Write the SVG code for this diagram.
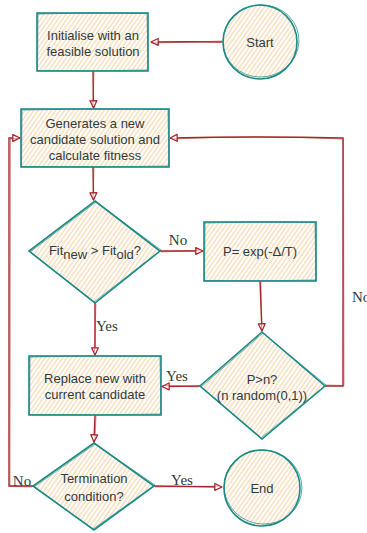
<svg xmlns="http://www.w3.org/2000/svg" width="367" height="533" viewBox="0 0 367 533">
<defs>
<pattern id="h" patternUnits="userSpaceOnUse" width="3.6" height="3.6" patternTransform="rotate(35)">
<rect width="3.6" height="3.6" fill="#ffffff"/>
<line x1="1" y1="0" x2="1" y2="3.6" stroke="#f8d3a6" stroke-width="1.1"/>
</pattern>
<marker id="a" viewBox="0 0 10 10" refX="9" refY="5" markerWidth="9" markerHeight="9" orient="auto" markerUnits="userSpaceOnUse">
<path d="M1,1.2 L9,5 L1,8.8 Z" fill="#ffffff" stroke="#a8262a" stroke-width="1.4" stroke-linejoin="round"/>
</marker>
</defs>
<style>
.s{fill:url(#h);stroke:#1b8a86;stroke-width:1.6;}
.s2{fill:none;stroke:#1b8a86;stroke-width:0.9;opacity:0.75;}
.t{font-family:"Liberation Sans",Arial,sans-serif;font-size:13px;fill:#2f3b3d;text-anchor:middle;}
.c{fill:none;stroke:#a8262a;stroke-width:1.4;}
.c2{fill:none;stroke:#a8262a;stroke-width:0.8;opacity:0.6;}
.l{font-family:"Liberation Serif","Times New Roman",serif;font-size:15px;fill:#2f3b3d;}
</style>

<g id="connectors">
<path class="c" d="M222,42 Q190,41.5 151,42" marker-end="url(#a)"/>
<path class="c2" d="M222,41 Q188,42.5 151,43"/>
<path class="c" d="M93,71 L93.5,108" marker-end="url(#a)"/>
<path class="c2" d="M94,72 L92.8,106"/>
<path class="c" d="M93,167 L93.5,200" marker-end="url(#a)"/>
<path class="c2" d="M94,168 L93,198"/>
<path class="c" d="M160,251 L203,251" marker-end="url(#a)"/>
<path class="c2" d="M161,252 L200,250"/>
<path class="c" d="M260,281 L262,331" marker-end="url(#a)"/>
<path class="c2" d="M261,282 L261.5,329"/>
<path class="c" d="M200,386 L162,386.5" marker-end="url(#a)"/>
<path class="c2" d="M199,387 L164,385.5"/>
<path class="c" d="M325,386 L343,386 L343,138 Q260,136 170,138" marker-end="url(#a)"/>
<path class="c2" d="M326,385 L344,385.5 L343.5,139 Q255,135 172,139"/>
<path class="c" d="M95,303 L95,355" marker-end="url(#a)"/>
<path class="c2" d="M96,304 L94.5,352"/>
<path class="c" d="M95,415 L94,442" marker-end="url(#a)"/>
<path class="c2" d="M96,416 L95,440"/>
<path class="c" d="M154,486 L222,487" marker-end="url(#a)"/>
<path class="c2" d="M155,487 L219,486"/>
<path class="c" d="M33,486 L9,486 L9,138 L20,138" marker-end="url(#a)"/>
<path class="c2" d="M32,487 L10,486.5 L10.5,139 L18,138.5"/>
</g>

<g id="start">
<circle class="s" cx="260" cy="42" r="37"/>
<ellipse class="s2" cx="261" cy="41" rx="38" ry="36" transform="rotate(-10 261 41)"/>
<text class="t" x="260" y="46.5">Start</text>
</g>

<g id="init">
<rect class="s" x="37" y="13" width="111" height="58"/>
<path class="s2" d="M38,14 Q92,12 147,13.5 L148,70 Q92,71.5 37.5,70.5 Z"/>
<text class="t" x="93" y="39.5">Initialise with an</text>
<text class="t" x="93" y="55.5">feasible solution</text>
</g>

<g id="generate">
<rect class="s" x="21" y="109" width="148" height="58"/>
<path class="s2" d="M22,110 Q95,108 168,109.5 L169,166 Q95,167.5 21.5,166.5 Z"/>
<text class="t" x="95" y="127.5">Generates a new</text>
<text class="t" x="95" y="143.5">candidate solution and</text>
<text class="t" x="95" y="159.5">calculate fitness</text>
</g>

<g id="fit-decision">
<path class="s" d="M95,201 L160,251 L95,303 L29,251 Z"/>
<path class="s2" d="M96,202 L161,250 L94,302 L30,252 Z"/>
<text class="t" x="95" y="255">Fit<tspan dy="4">new</tspan><tspan dy="-4"> &gt; Fit</tspan><tspan dy="4">old</tspan><tspan dy="-4">?</tspan></text>
</g>

<g id="prob">
<rect class="s" x="204" y="222" width="112" height="59"/>
<path class="s2" d="M205,223 Q260,221 315,222.5 L316,280 Q260,281.5 204.5,280.5 Z"/>
<text class="t" x="260" y="255.5">P= exp(-Δ/T)</text>
</g>

<g id="accept-decision">
<path class="s" d="M262,332 L325,386 L262,439 L200,386 Z"/>
<path class="s2" d="M263,333 L326,385 L261,438 L201,387 Z"/>
<text class="t" x="262" y="383.5">P&gt;n?</text>
<text class="t" x="262" y="399.5">(n random(0,1))</text>
</g>

<g id="replace">
<rect class="s" x="29" y="356" width="132" height="59"/>
<path class="s2" d="M30,357 Q95,355 160,356.5 L161,414 Q95,415.5 29.5,414.5 Z"/>
<text class="t" x="95" y="382.5">Replace new with</text>
<text class="t" x="95" y="398.5">current candidate</text>
</g>

<g id="termination">
<path class="s" d="M94,443 L154,486 L94,530 L33,486 Z"/>
<path class="s2" d="M95,444 L155,485 L93,529 L34,487 Z"/>
<text class="t" x="94" y="482.5">Termination</text>
<text class="t" x="94" y="500.5">condition?</text>
</g>

<g id="end">
<circle class="s" cx="262" cy="488" r="38"/>
<ellipse class="s2" cx="263" cy="487" rx="39" ry="37" transform="rotate(12 263 487)"/>
<text class="t" x="262" y="492.5">End</text>
</g>

<g id="labels">
<text class="l" x="178" y="245" text-anchor="middle">No</text>
<text class="l" x="96" y="331">Yes</text>
<text class="l" x="177" y="381" text-anchor="middle">Yes</text>
<text class="l" x="352" y="302">No</text>
<text class="l" x="182" y="485" text-anchor="middle">Yes</text>
<text class="l" x="22" y="486" text-anchor="middle">No</text>
</g>
</svg>
